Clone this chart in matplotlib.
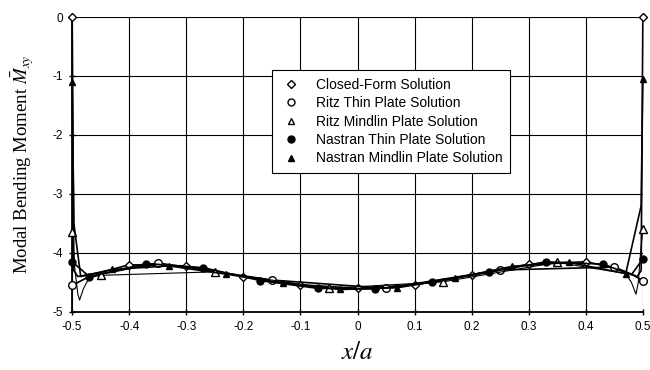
import numpy as np
import matplotlib.pyplot as plt
from matplotlib.lines import Line2D

# values
# closed-form solution (diamonds every 0.1, extra unmarked points near the edges)
closed_x = [-0.5, -0.497, -0.49, -0.45, -0.4, -0.3, -0.2, -0.1, 0.0, 0.1, 0.2, 0.3, 0.4, 0.45, 0.49, 0.497, 0.5]
closed_y = [0.0, -4.3, -4.4, -4.33, -4.2, -4.22, -4.4, -4.54, -4.6, -4.54, -4.37, -4.19, -4.15, -4.25, -4.4, -4.3, 0.0]
closed_mark = [0, 4, 5, 6, 7, 8, 9, 10, 11, 12, 16]

# Ritz thin plate (open circles)
ritz_thin_x = [-0.5, -0.49, -0.47, -0.35, -0.15, 0.05, 0.25, 0.45, 0.48, 0.5]
ritz_thin_y = [-4.55, -4.5, -4.4, -4.17, -4.46, -4.6, -4.29, -4.24, -4.36, -4.47]
ritz_thin_mark = [0, 3, 4, 5, 6, 7, 9]

# Ritz Mindlin plate (open triangles), oscillates at the free edges
ritz_mind_x = [-0.5, -0.495, -0.49, -0.487, -0.48, -0.47, -0.45, -0.25, -0.05, 0.15, 0.35,
               0.47, 0.48, 0.488, 0.492, 0.496, 0.5]
ritz_mind_y = [-3.65, -4.3, -4.7, -4.8, -4.6, -4.42, -4.38, -4.32, -4.6, -4.49, -4.16,
               -4.35, -4.5, -4.7, -4.5, -4.0, -3.6]
ritz_mind_mark = [0, 6, 7, 8, 9, 10, 16]

# Nastran thin plate (filled circles)
nas_thin_x = [-0.5, -0.47, -0.37, -0.27, -0.17, -0.07, 0.03, 0.13, 0.23, 0.33, 0.43, 0.48, 0.5]
nas_thin_y = [-4.15, -4.4, -4.18, -4.25, -4.47, -4.6, -4.61, -4.5, -4.33, -4.15, -4.19, -4.37, -4.1]
nas_thin_mark = [0, 1, 2, 3, 4, 5, 6, 7, 8, 9, 10, 12]

# Nastran Mindlin plate (filled triangles)
nas_mind_x = [-0.5, -0.497, -0.485, -0.43, -0.33, -0.23, -0.13, -0.03, 0.07, 0.17, 0.27, 0.37, 0.47, 0.497, 0.5]
nas_mind_y = [-1.1, -3.5, -4.4, -4.28, -4.22, -4.36, -4.51, -4.62, -4.59, -4.43, -4.23, -4.16, -4.35, -3.2, -1.05]
nas_mind_mark = [0, 3, 4, 5, 6, 7, 8, 9, 10, 11, 12, 14]

xticks = [-0.5, -0.4, -0.3, -0.2, -0.1, 0, 0.1, 0.2, 0.3, 0.4, 0.5]
xtick_labels = ['-0.5', '-0.4', '-0.3', '-0.2', '-0.1', '0', '0.1', '0.2', '0.3', '0.4', '0.5']
yticks = [-5, -4, -3, -2, -1, 0]
ytick_labels = ['-5', '-4', '-3', '-2', '-1', '0']

plt.rcParams['font.family'] = ['Liberation Sans', 'DejaVu Sans']
plt.rcParams['mathtext.fontset'] = 'stix'

fig = plt.figure(figsize=(6.5, 3.7), dpi=100)
ax = fig.add_axes([0.111, 0.157, 0.878, 0.797])

common = dict(color='black', clip_on=False)
ax.plot(closed_x, closed_y, lw=1.2, marker='D', ms=4,
        mfc='white', mec='black', mew=1.0, markevery=closed_mark, zorder=3, **common)
ax.plot(ritz_thin_x, ritz_thin_y, lw=1.2, marker='o', ms=5.5,
        mfc='white', mec='black', mew=1.0, markevery=ritz_thin_mark, zorder=4, **common)
ax.plot(ritz_mind_x, ritz_mind_y, lw=0.8, marker='^', ms=5.5,
        mfc='white', mec='black', mew=1.0, markevery=ritz_mind_mark, zorder=4, **common)
ax.plot(nas_thin_x, nas_thin_y, lw=1.2, marker='o', ms=5,
        mfc='black', mec='black', markevery=nas_thin_mark, zorder=4, **common)
ax.plot(nas_mind_x, nas_mind_y, lw=1.2, marker='^', ms=5,
        mfc='black', mec='black', markevery=nas_mind_mark, zorder=4, **common)

ax.set_xlim(-0.5, 0.5)
ax.set_ylim(-5, 0)
ax.set_xticks(xticks)
ax.set_xticklabels(xtick_labels)
ax.set_yticks(yticks)
ax.set_yticklabels(ytick_labels)
ax.tick_params(direction='inout', length=5, width=1, labelsize=8.5, pad=4)
ax.grid(True, color='black', lw=0.8)
for s in ['top', 'right']:
    ax.spines[s].set_visible(False)
ax.spines['left'].set_linewidth(1.3)
ax.spines['bottom'].set_linewidth(1.3)

ax.set_xlabel('$x/a$', fontsize=18, labelpad=5)
ax.set_ylabel(r'Modal Bending Moment $\bar{M}_{xy}$', family='Liberation Serif',
              fontsize=13.5, labelpad=12)

handles = [
    Line2D([], [], ls='none', marker='D', ms=4, mfc='white', mec='black', mew=1.0),
    Line2D([], [], ls='none', marker='o', ms=5, mfc='white', mec='black', mew=1.0),
    Line2D([], [], ls='none', marker='^', ms=5, mfc='white', mec='black', mew=1.0),
    Line2D([], [], ls='none', marker='o', ms=5, mfc='black', mec='black'),
    Line2D([], [], ls='none', marker='^', ms=5, mfc='black', mec='black'),
]
labels = ['Closed-Form Solution', 'Ritz Thin Plate Solution', 'Ritz Mindlin Plate Solution',
          'Nastran Thin Plate Solution', 'Nastran Mindlin Plate Solution']
leg = ax.legend(handles, labels, loc='upper left', bbox_to_anchor=(272 / 650, 1 - 70 / 370),
                bbox_transform=fig.transFigure, borderaxespad=0, fontsize=10, frameon=True,
                fancybox=False, edgecolor='black', framealpha=1, borderpad=0.55,
                labelspacing=0.32, handletextpad=1.0, handlelength=1.6)
leg.get_frame().set_linewidth(0.8)
leg.set_zorder(10)

fig.savefig('out.png', dpi=100)
